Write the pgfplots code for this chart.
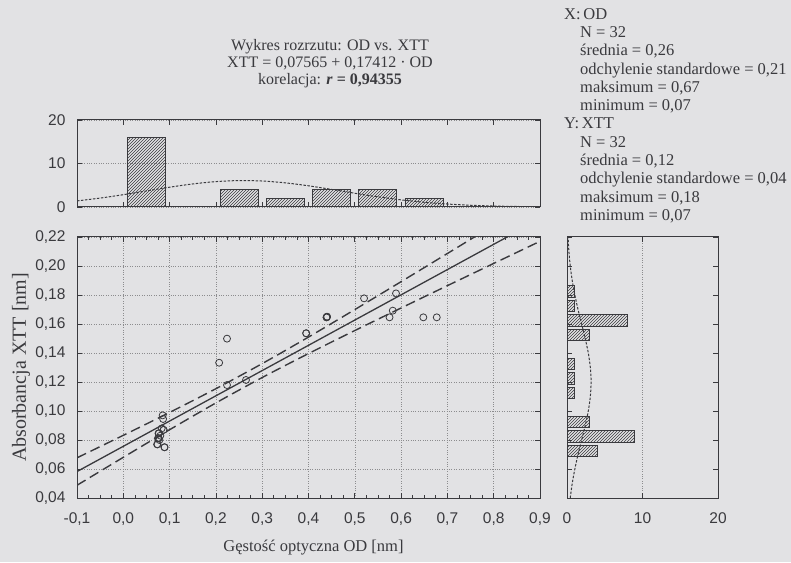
\documentclass[border=0pt]{standalone}
\usepackage{pgfplots}
\pgfplotsset{compat=1.18}
\usepackage{fontspec}
\setmainfont{Liberation Serif}
\setsansfont{Liberation Sans}
\usetikzlibrary{patterns}
\definecolor{paper}{RGB}{226,226,228}
\definecolor{ink}{RGB}{58,58,62}
\definecolor{gridc}{RGB}{140,140,142}

\newcommand{\tickfont}{\sffamily\fontsize{15.5}{17}\selectfont}

\pgfplotsset{
  histo/.style={
    scale only axis,
    tick align=inside, tick pos=both,
    axis line style={ink, line width=1pt},
    every tick/.style={ink, line width=0.7pt},
    major tick length=5pt, minor tick length=3pt,
    major grid style={gridc, dotted, line width=0.6pt},
    /pgf/number format/assume math mode=true,
    /pgf/number format/use comma,
    every tick label/.append style={font=\tickfont, text=ink},
    xticklabel style={yshift=-11pt},
    yticklabel style={xshift=-8pt},
  },
}

\begin{document}
\begin{tikzpicture}
\fill[paper] (0pt,0pt) rectangle (791pt,562pt);
\useasboundingbox (0pt,0pt) rectangle (791pt,562pt);

% title and statistics
\node[align=center, font=\fontsize{16}{17}\selectfont, text=ink] at (330pt,498pt)
  {Wykres rozrzutu: OD vs. XTT\\
   XTT = 0,07565 + 0,17412 · OD\\
   korelacja: \textbf{\textit{r} = 0,94355}};
\node[anchor=north west, align=left, inner sep=0pt, font=\fontsize{16.5}{18.3}\selectfont, text=ink]
  at (564pt,554pt)
  {X:\,OD\\
   \hspace*{16pt}N = 32\\
   \hspace*{16pt}średnia = 0,26\\
   \hspace*{16pt}odchylenie standardowe = 0,21\\
   \hspace*{16pt}maksimum = 0,67\\
   \hspace*{16pt}minimum = 0,07\\
   Y:\,XTT\\
   \hspace*{16pt}N = 32\\
   \hspace*{16pt}średnia = 0,12\\
   \hspace*{16pt}odchylenie standardowe = 0,04\\
   \hspace*{16pt}maksimum = 0,18\\
   \hspace*{16pt}minimum = 0,07};

% main scatter plot
\begin{axis}[histo,
  at={(77pt,64pt)}, anchor=south west,
  width=463pt, height=261pt,
  xmin=-0.1, xmax=0.9, ymin=0.04, ymax=0.22,
  xtick={-0.1,0,0.1,0.2,0.3,0.4,0.5,0.6,0.7,0.8,0.9},
  ytick={0.04,0.06,0.08,0.10,0.12,0.14,0.16,0.18,0.20,0.22},
  minor x tick num=3,
  grid=major,
  xticklabel={\pgfmathprintnumber[fixed,fixed zerofill,precision=1,use comma,assume math mode=true]{\tick}},
  yticklabel={\pgfmathprintnumber[fixed,fixed zerofill,precision=2,use comma,assume math mode=true]{\tick}},
  scaled ticks=false,
  xlabel={Gęstość optyczna OD [nm]},
  ylabel={Absorbancja XTT [nm]},
  every axis x label/.style={at={(axis description cs:0.5,0)}, anchor=center,
    xshift=5pt, yshift=-50pt, font=\fontsize{16.5}{18}\selectfont, text=ink},
  every axis y label/.style={at={(axis description cs:0,0.5)}, anchor=center, rotate=90,
    yshift=56pt, font=\fontsize{20}{22}\selectfont, text=ink},
]
\addplot[only marks, mark=o, mark size=3.5pt, ink, mark options={line width=0.8pt}] coordinates {
  (0.085,0.097) (0.086,0.0945) (0.083,0.088)
  (0.087,0.087) (0.087,0.087) (0.076,0.0846) (0.077,0.0846) (0.076,0.0812)
  (0.076,0.0812) (0.075,0.0812) (0.080,0.083) (0.078,0.080)
  (0.073,0.077) (0.074,0.077) (0.089,0.075) (0.089,0.075)
  (0.207,0.1333) (0.224,0.1499) (0.224,0.1179) (0.265,0.1214)
  (0.395,0.1536) (0.395,0.1536)
  (0.439,0.1646) (0.439,0.1646) (0.440,0.1650) (0.440,0.1650)
  (0.520,0.1777) (0.589,0.1811) (0.582,0.1692) (0.575,0.1646)
  (0.648,0.1646) (0.677,0.1646)};
\addplot[ink, line width=1.3pt] coordinates {(-0.1,0.05824) (0.9,0.23236)};
\addplot[ink, line width=1.4pt, dash pattern=on 10pt off 5pt, smooth] coordinates {
  (-0.1,0.06771) (0.0,0.08323) (0.1,0.09902) (0.2,0.11538) (0.3,0.13269)
  (0.4,0.15099) (0.5,0.16994) (0.6,0.18920) (0.7,0.20862) (0.8,0.22814) (0.9,0.24770)};
\addplot[ink, line width=1.4pt, dash pattern=on 10pt off 5pt, smooth] coordinates {
  (-0.1,0.04877) (0.0,0.06807) (0.1,0.08710) (0.2,0.10556) (0.3,0.12309)
  (0.4,0.13961) (0.5,0.15548) (0.6,0.17104) (0.7,0.18644) (0.8,0.20176) (0.9,0.21702)};
\end{axis}

% histogram of OD (top)
\begin{axis}[histo,
  at={(77pt,355pt)}, anchor=south west,
  width=463pt, height=87pt,
  xmin=-0.1, xmax=0.9, ymin=0, ymax=20,
  xtick={-0.1,0,0.1,0.2,0.3,0.4,0.5,0.6,0.7,0.8,0.9}, xticklabels={},
  ytick={0,10,20},
  ymajorgrids,
]
\addplot[ybar, bar width=0.082, draw=ink, line width=1pt,
  pattern=north east lines, pattern color=ink] coordinates {
  (0.05,16) (0.25,4) (0.35,2) (0.45,4) (0.55,4) (0.65,2)};
\addplot[ink, line width=1pt, dash pattern=on 2.5pt off 1.5pt, smooth] coordinates {
  (-0.1,1.40) (-0.05,2.05) (0.0,2.83) (0.05,3.69) (0.1,4.55) (0.15,5.30)
  (0.2,5.84) (0.25,6.07) (0.3,5.97) (0.35,5.55) (0.4,4.87) (0.45,4.04)
  (0.5,3.16) (0.55,2.34) (0.6,1.64) (0.65,1.08) (0.7,0.68) (0.75,0.40)
  (0.8,0.22) (0.85,0.12) (0.9,0.06)};
\end{axis}

% histogram of XTT (right)
\begin{axis}[histo,
  at={(567pt,64pt)}, anchor=south west,
  width=151pt, height=261pt,
  xmin=0, xmax=20, ymin=0.04, ymax=0.22,
  xtick={0,10,20},
  ytick={0.04,0.06,0.08,0.10,0.12,0.14,0.16,0.18,0.20,0.22}, yticklabels={},
  xmajorgrids,
]
\addplot[xbar, bar width=0.008, draw=ink, line width=1pt,
  pattern=north east lines, pattern color=ink] coordinates {
  (4,0.0725) (9,0.0825) (3,0.0925) (1,0.1125) (1,0.1225) (1,0.1325)
  (3,0.1525) (8,0.1625) (1,0.1725) (1,0.1825)};
\addplot[ink, line width=1pt, dash pattern=on 2.5pt off 1.5pt, smooth] coordinates {
  (0.43,0.04) (0.69,0.05) (1.04,0.06) (1.46,0.07) (1.94,0.08) (2.41,0.09)
  (2.82,0.10) (3.09,0.11) (3.19,0.12) (3.09,0.13) (2.82,0.14) (2.41,0.15)
  (1.94,0.16) (1.46,0.17) (1.04,0.18) (0.69,0.19) (0.43,0.20) (0.25,0.21)
  (0.14,0.22)};
\end{axis}
\end{tikzpicture}
\end{document}
